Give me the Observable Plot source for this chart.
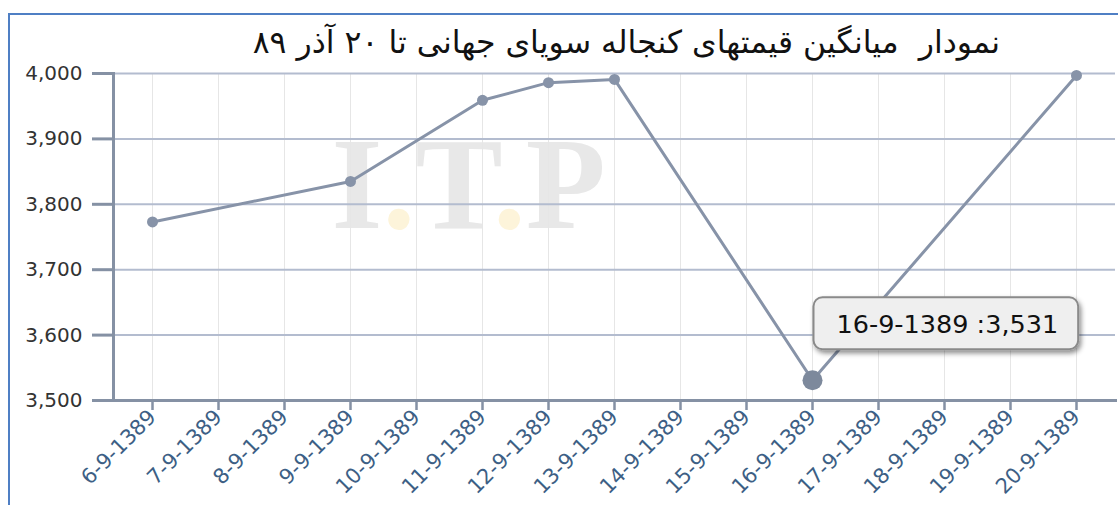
<!DOCTYPE html>
<html>
<head>
<meta charset="utf-8">
<script src="https://cdn.jsdelivr.net/npm/d3@7"></script>
<script src="https://cdn.jsdelivr.net/npm/@observablehq/plot@0.6"></script>
<style>
  html, body { margin: 0; padding: 0; background: #fff; }
  #wrap { position: relative; width: 1118px; height: 505px; overflow: hidden; }
  #border { position: absolute; left: 8px; top: 13px; right: -10px; bottom: -10px;
            border-top: 2px solid #4f7fc4; border-left: 2px solid #4f7fc4; }
  #title { position: absolute; top: 24px; right: 118px; direction: rtl;
           font-family: "DejaVu Sans", sans-serif; font-size: 31.5px; color: #111; white-space: pre; }
  #chart { position: absolute; left: 0; top: 0; }
  #err { position: absolute; left: 20px; top: 440px; color: red; font: 12px monospace; }
</style>
</head>
<body>
<div id="wrap">
  <div id="border"></div>
  <div id="chart"></div>
  <div id="title"></div>
  <div id="err"></div>
</div>
<script>
// ---- data ----
const title = "نمودار  میانگین قیمتهای کنجاله سویای جهانی تا ۲۰ آذر ۸۹";
const dateLabels = ["6-9-1389","7-9-1389","8-9-1389","9-9-1389","10-9-1389","11-9-1389","12-9-1389",
  "13-9-1389","14-9-1389","15-9-1389","16-9-1389","17-9-1389","18-9-1389","19-9-1389","20-9-1389"];
const obsDates = ["6-9-1389","9-9-1389","11-9-1389","12-9-1389","13-9-1389","16-9-1389","20-9-1389"];
const prices = [3773, 3835, 3959, 3986, 3991, 3531, 3997];
const yTicks = [3500, 3600, 3700, 3800, 3900, 4000];
const highlightDate = "16-9-1389";
const watermark = "I.T.P";

document.getElementById("title").textContent = title;

const data = obsDates.map((d, i) => ({date: d, value: prices[i]}));
const highlight = data.filter(d => d.date === highlightDate);
const fmt = d3.format(",");

const axisColor = "#8591a4";
const lineColor = "#8793a8";

const chart = Plot.plot({
  width: 1118,
  height: 505,
  marginLeft: 113,
  marginRight: 3,
  marginTop: 73,
  marginBottom: 105,
  style: {fontFamily: "DejaVu Sans, sans-serif", background: "transparent", overflow: "visible"},
  x: {type: "point", domain: dateLabels, padding: 0.5, label: null},
  y: {domain: [3500, 4000], label: null},
  marks: [
    Plot.text([watermark], {frameAnchor: "top-left", dx: 218, dy: 61, textAnchor: "start",
      fontFamily: "Liberation Serif, serif", fontWeight: "bold", fontSize: 131, fill: "#e8e8e8",
      className: "wm"}),
    Plot.gridX(dateLabels, {stroke: "#e6e6e6", strokeOpacity: 1, strokeWidth: 1}),
    Plot.gridY(yTicks, {stroke: "#b3bccf", strokeOpacity: 1, strokeWidth: 2}),
    Plot.axisY(yTicks, {tickSize: 21, tickPadding: 10, stroke: axisColor, strokeWidth: 3,
      fontSize: 20, fill: "#333", tickFormat: fmt, label: null, style: {letterSpacing: "0.6px"}}),
    Plot.axisX(dateLabels, {tickSize: 10, tickPadding: 3, tickRotate: -45, stroke: axisColor,
      strokeWidth: 2.5, fontSize: 21, fill: "#3d5f85", label: null}),
    Plot.frame({anchor: "left", stroke: axisColor, strokeWidth: 3}),
    Plot.frame({anchor: "bottom", stroke: axisColor, strokeWidth: 3}),
    Plot.line(data, {x: "date", y: "value", stroke: lineColor, strokeWidth: 3}),
    Plot.dot(data, {x: "date", y: "value", r: 5.5, fill: lineColor}),
    Plot.dot(highlight, {x: "date", y: "value", r: 10, fill: "#7d899c", className: "hl"}),
    Plot.text(highlight, {x: "date", y: "value", text: d => `${d.date} :${fmt(d.value)}`,
      dx: 24, dy: -55, textAnchor: "start", fontSize: 25.5, fill: "#111", className: "tipText"})
  ]
});
document.getElementById("chart").appendChild(chart);

const svg = d3.select(chart);

// watermark: colour the dots
svg.selectAll(".wm text").each(function() {
  const t = d3.select(this);
  const s = t.text();
  t.text(null);
  for (const ch of s) {
    t.append("tspan").text(ch).attr("fill", ch === "." ? "#fdf4da" : "#e8e8e8");
  }
});

// tooltip box behind the text, anchored to the highlighted dot (screen-space measurement)
try {
  const ns = "http://www.w3.org/2000/svg";
  const defs = document.createElementNS(ns, "defs");
  defs.innerHTML = '<filter id="tipShadow" x="-20%" y="-40%" width="140%" height="180%">' +
    '<feDropShadow dx="2" dy="3" stdDeviation="2.5" flood-color="#000" flood-opacity="0.45"/></filter>';
  chart.appendChild(defs);
  const sr = chart.getBoundingClientRect();
  const circ = chart.querySelector(".hl circle") || chart.querySelector(".hl path");
  const cr = circ.getBoundingClientRect();
  const px = cr.left + cr.width / 2 - sr.left, py = cr.top + cr.height / 2 - sr.top;
  const tg = chart.querySelector(".tipText");
  const tr = tg.querySelector("text").getBoundingClientRect();
  const left = px + 1;
  const right = tr.right - sr.left + 20;
  const rect = document.createElementNS(ns, "rect");
  rect.setAttribute("x", left);
  rect.setAttribute("y", py - 83);
  rect.setAttribute("width", right - left);
  rect.setAttribute("height", 52);
  rect.setAttribute("rx", 9);
  rect.setAttribute("fill", "#efefef");
  rect.setAttribute("stroke", "#8a8a8a");
  rect.setAttribute("stroke-width", 2);
  rect.setAttribute("filter", "url(#tipShadow)");
  tg.parentNode.insertBefore(rect, tg);
} catch (e) { document.getElementById("err").textContent = String(e); }
</script>
</body>
</html>
